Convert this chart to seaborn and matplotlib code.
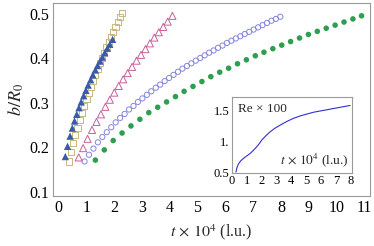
import numpy as np
import matplotlib
matplotlib.use("Agg")
import matplotlib.pyplot as plt
from matplotlib.ticker import MultipleLocator
import pandas as pd
import seaborn as sns

## values
## filled blue triangles
tri_t = [0.25, 0.33, 0.42, 0.50, 0.58, 0.66, 0.74, 0.82, 0.91, 0.99, 1.07,
         1.16, 1.24, 1.33, 1.41, 1.50, 1.58, 1.67, 1.76, 1.85, 1.95]
tri_b = [0.179, 0.202, 0.225, 0.243, 0.259, 0.274, 0.289, 0.302, 0.316, 0.328, 0.340,
         0.352, 0.363, 0.374, 0.384, 0.394, 0.403, 0.413, 0.423, 0.432, 0.443]

## open tan squares
sq_t = [0.37, 0.45, 0.53, 0.61, 0.69, 0.77, 0.85, 0.93, 1.01, 1.09, 1.17, 1.25, 1.33,
        1.41, 1.49, 1.57, 1.65, 1.73, 1.81, 1.89, 1.97, 2.05, 2.13, 2.21, 2.28]
sq_b = [0.168, 0.189, 0.209, 0.227, 0.244, 0.261, 0.277, 0.293, 0.308, 0.322, 0.336, 0.350, 0.363,
        0.376, 0.389, 0.401, 0.413, 0.425, 0.437, 0.448, 0.460, 0.471, 0.482, 0.493, 0.502]

## open pink triangles
pk_t = [0.73, 0.89, 1.05, 1.21, 1.37, 1.53, 1.69, 1.85, 2.01, 2.17, 2.33,
        2.49, 2.65, 2.81, 2.97, 3.13, 3.29, 3.45, 3.61, 3.77, 3.93, 4.10]
pk_b = [0.177, 0.198, 0.219, 0.239, 0.257, 0.274, 0.291, 0.307, 0.323, 0.338, 0.353,
        0.367, 0.381, 0.395, 0.408, 0.421, 0.434, 0.447, 0.459, 0.471, 0.483, 0.496]

## open lavender circles
ci_t = [0.94, 1.10, 1.26, 1.42, 1.58, 1.74, 1.90, 2.06, 2.22, 2.38, 2.54, 2.70, 2.86, 3.02, 3.18,
        3.34, 3.50, 3.66, 3.82, 3.98, 4.14, 4.30, 4.46, 4.62, 4.78, 4.94, 5.10, 5.26, 5.42, 5.58,
        5.74, 5.90, 6.06, 6.22, 6.38, 6.54, 6.70, 6.86, 7.02, 7.18, 7.34, 7.50, 7.66, 7.82, 7.98]
ci_b = [0.168, 0.183, 0.197, 0.211, 0.223, 0.234, 0.245, 0.256, 0.266, 0.275, 0.285, 0.293, 0.302, 0.310, 0.318,
        0.326, 0.334, 0.341, 0.349, 0.356, 0.363, 0.370, 0.377, 0.383, 0.389, 0.395, 0.401, 0.407, 0.413, 0.418,
        0.424, 0.429, 0.435, 0.440, 0.445, 0.450, 0.455, 0.460, 0.465, 0.470, 0.475, 0.480, 0.485, 0.489, 0.494]

## filled green dots
gr_t = [1.33, 1.65, 1.97, 2.29, 2.61, 2.93, 3.25, 3.57, 3.89, 4.21, 4.52, 4.84, 5.16, 5.48, 5.80, 6.12,
        6.44, 6.76, 7.08, 7.39, 7.71, 8.03, 8.35, 8.67, 8.99, 9.31, 9.63, 9.95, 10.27, 10.59, 10.90]
gr_b = [0.171, 0.194, 0.215, 0.232, 0.248, 0.263, 0.278, 0.290, 0.302, 0.314, 0.326, 0.337, 0.348, 0.359, 0.369, 0.378,
        0.388, 0.397, 0.406, 0.414, 0.422, 0.430, 0.438, 0.446, 0.454, 0.461, 0.468, 0.475, 0.482, 0.489, 0.496]

## inset: Reynolds number (x100) vs time
re_t = [0.29, 0.35, 0.45, 0.60, 0.78, 1.00, 1.23, 1.45, 1.68, 1.85, 2.02, 2.30, 2.57, 2.90,
        3.25, 3.70, 4.14, 4.60, 5.04, 5.50, 5.94, 6.40, 6.83, 7.40, 7.95]
re_v = [0.51, 0.58, 0.64, 0.69, 0.73, 0.77, 0.81, 0.86, 0.92, 0.97, 1.03, 1.10, 1.16, 1.22,
        1.27, 1.33, 1.38, 1.42, 1.45, 1.48, 1.50, 1.52, 1.54, 1.565, 1.59]

sns.set_style("white")
plt.rcParams['font.family'] = ['Liberation Serif', 'DejaVu Serif']
plt.rcParams['mathtext.fontset'] = 'stix'

grey = '#9a9a9a'

fig = plt.figure(figsize=(3.74, 2.46), dpi=100)
ax = fig.add_axes([0.142, 0.203, 0.847, 0.785])

sns.scatterplot(x=gr_t, y=gr_b, ax=ax, marker='o', s=16, color='#2e9e4f', edgecolor='none')
sns.scatterplot(x=ci_t, y=ci_b, ax=ax, marker='o', s=14, facecolor='none', edgecolor='#8585dd', linewidth=0.7)
sns.scatterplot(x=pk_t, y=pk_b, ax=ax, marker='^', s=26, facecolor='none', edgecolor='#c8609a', linewidth=0.7)
sns.scatterplot(x=sq_t, y=sq_b, ax=ax, marker='s', s=20, facecolor='none', edgecolor='#c9b87f', linewidth=0.7)
sns.scatterplot(x=tri_t, y=tri_b, ax=ax, marker='^', s=28, color='#3a5ca8', edgecolor='none')

ax.set_xlim(-0.19, 11.2)
ax.set_ylim(0.09, 0.525)
ax.set_xticks(range(0, 12))
ax.set_yticks([0.1, 0.2, 0.3, 0.4, 0.5])
ax.set_yticklabels(['0.1', '0.2', '0.3', '0.4', '0.5'])
ax.xaxis.set_minor_locator(MultipleLocator(0.2))
ax.yaxis.set_minor_locator(MultipleLocator(0.02))
ax.tick_params(which='both', direction='in', colors=grey, labelcolor='black', labelsize=11.5,
               top=False, right=False)
ax.tick_params(which='major', length=4, width=0.7, pad=3)
ax.tick_params(which='minor', length=2, width=0.6)
for sp in ax.spines.values():
    sp.set_color(grey)
    sp.set_linewidth(0.8)
ax.set_xlabel(r"$t\,\times\,10^{4}$ (l.u.)", fontsize=11.5, labelpad=4)
ax.set_ylabel(r"$b/R_0$", fontsize=13, labelpad=2)

## inset
ins = fig.add_axes([0.6195, 0.298, 0.3225, 0.306])
sns.lineplot(x=re_t, y=re_v, ax=ins, color='#3030d0', linewidth=0.8)
ins.set_xlim(0, 8.1)
ins.set_ylim(0.5, 1.72)
ins.set_xticks(range(0, 9))
ins.set_yticks([0.5, 1.0, 1.5])
ins.set_yticklabels(['0.5', '1.', '1.5'])
ins.xaxis.set_minor_locator(MultipleLocator(0.2))
ins.yaxis.set_minor_locator(MultipleLocator(0.1))
ins.tick_params(which='both', direction='in', colors=grey, labelcolor='black', labelsize=9,
                top=False, right=False, pad=1.5)
ins.tick_params(which='major', length=3, width=0.6)
ins.tick_params(which='minor', length=1.5, width=0.5)
for sp in ins.spines.values():
    sp.set_color(grey)
    sp.set_linewidth(0.8)
ins.text(0.05, 0.93, "Re × 100", transform=ins.transAxes, ha='left', va='top', fontsize=9.5)
ins.text(0.97, 0.05, r"$t\,\times\,10^{4}$ (l.u.)", transform=ins.transAxes, ha='right', va='bottom', fontsize=9.5)

fig.savefig("out.png", dpi=100)
